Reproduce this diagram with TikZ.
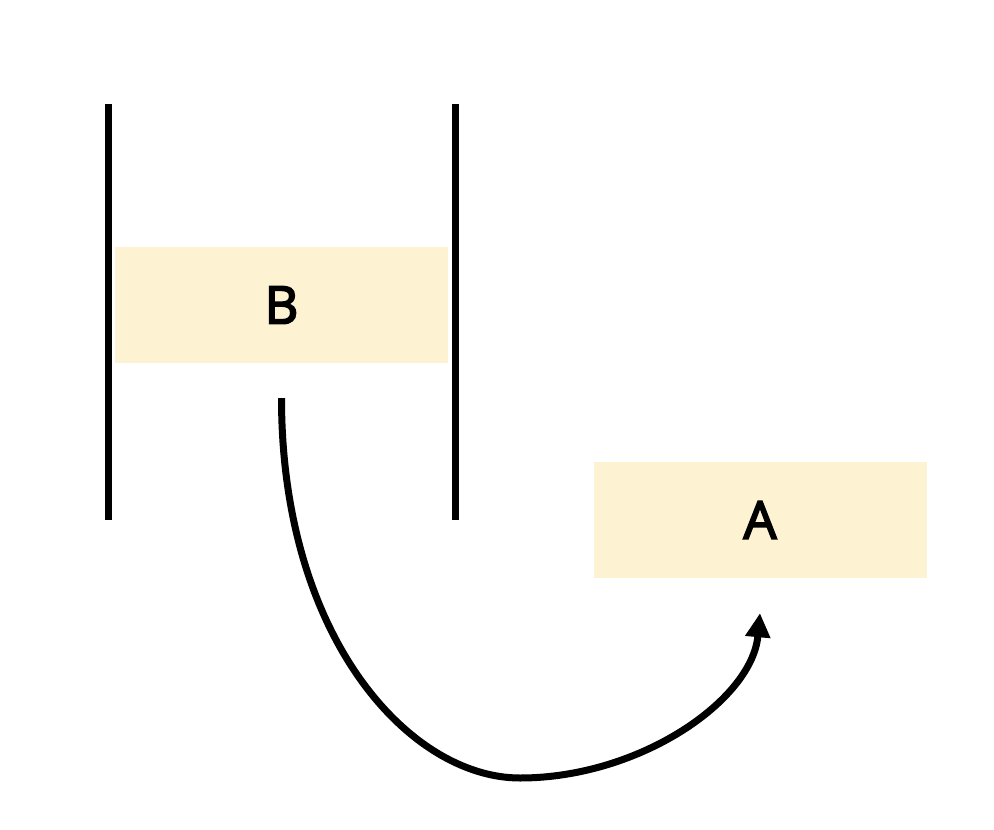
\documentclass[tikz,border=0pt]{standalone}
\usepackage{fontspec}
\setmainfont{Open Sans}
\newfontfamily\labelfont{Open Sans}[FakeBold=3.5]
\usetikzlibrary{arrows.meta,calc}
\definecolor{boxfill}{HTML}{FDF3D3}
\tikzset{
  box/.style={fill=boxfill,draw=none,minimum width=333pt,minimum height=116pt,inner sep=0pt,font=\labelfont\fontsize{52}{62}\selectfont},
  wall/.style={line width=7pt,black},
  link/.style={line width=7pt,black,-{Triangle[length=24pt,width=24pt]}}
}
\begin{document}
\begin{tikzpicture}[x=1pt,y=-1pt]
\useasboundingbox (0,0) rectangle (994,830);
\coordinate (L1) at (108,104); \coordinate (L2) at (108,520);
\coordinate (R1) at (455,104); \coordinate (R2) at (455,520);
\draw[wall] (L1) -- (L2);
\draw[wall] (R1) -- (R2);
\node[box] (B) at (281.5,305) {B};
\node[box] (A) at (760,520) {A};
\coordinate (s) at ($(B.south)+(0,35)$);
\coordinate (t) at ($(A.south)+(0,35)$);
\coordinate (m) at (520,778);
\draw[link] (s) .. controls ($(s)+(0,240)$) and (410,778) .. (m) .. controls (640,778) and (752,700) .. (t);
\end{tikzpicture}
\end{document}
